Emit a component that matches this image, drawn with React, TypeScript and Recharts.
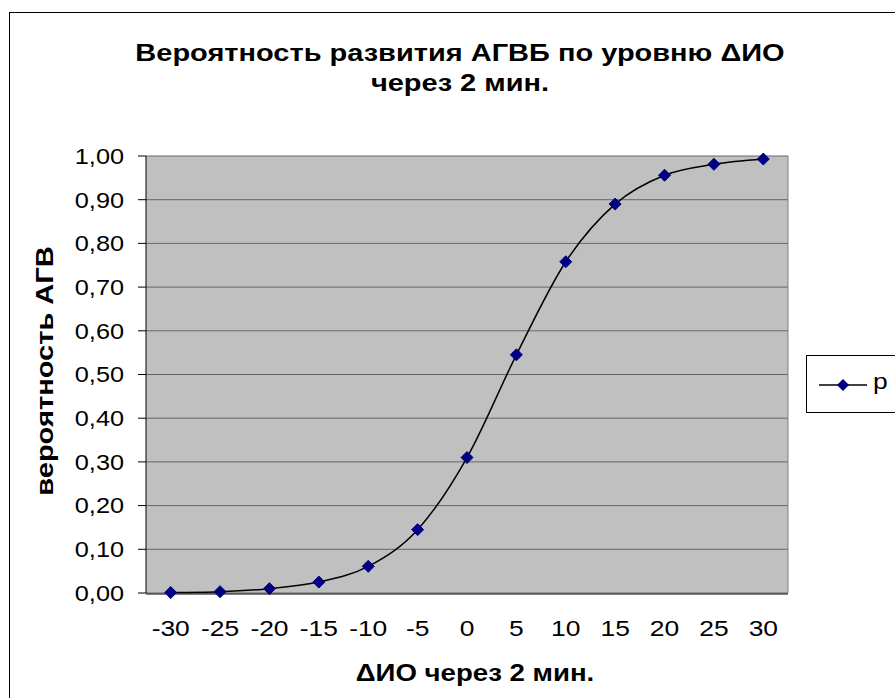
import React from 'react';
import { LineChart, Line, XAxis, YAxis, CartesianGrid, ReferenceLine } from 'recharts';

// ΔИО через 2 мин. (categories)
const dio = [-30, -25, -20, -15, -10, -5, 0, 5, 10, 15, 20, 25, 30];
// вероятность АГВ, series "p"
const p = [0.001, 0.003, 0.01, 0.025, 0.061, 0.145, 0.31, 0.545, 0.758, 0.89, 0.956, 0.981, 0.993];
const yTicks = [0, 0.1, 0.2, 0.3, 0.4, 0.5, 0.6, 0.7, 0.8, 0.9, 1];

// category boundaries for the tick marks (Excel style, between categories)
const edges = dio.map((v) => v - 2.5).concat(dio[dio.length - 1] + 2.5);

const data = dio.map((x, i) => ({ x, p: p[i] }));

const FONT = '"Liberation Sans", Arial, sans-serif';
const NAVY = '#000080';

const Diamond = (props: any) => {
    const { cx, cy } = props;
    if (cx == null || cy == null) return null;
    const r = 6;
    return <polygon points={`${cx},${cy - r} ${cx + r},${cy} ${cx},${cy + r} ${cx - r},${cy}`} fill={NAVY} stroke={NAVY} />;
};

const fmt = (v: number) => v.toFixed(2).replace('.', ',');

const XTick = (props: any) => {
    const { x, y, payload } = props;
    return (
        <text transform={`translate(${x},${y}) scale(1.2,1)`} textAnchor="middle" dy="0.71em" fontSize={22} fontFamily={FONT} fill="#000">
            {payload.value}
        </text>
    );
};

const YTick = (props: any) => {
    const { x, y, payload } = props;
    return (
        <text transform={`translate(${x},${y}) scale(1.15,1)`} textAnchor="end" dy="0.355em" fontSize={22} fontFamily={FONT} fill="#000">
            {fmt(payload.value)}
        </text>
    );
};

export default function App() {
    return (
        <div style={{ position: 'absolute', left: 0, top: 0, width: 895, height: 698, overflow: 'hidden', background: '#fff', fontFamily: FONT }}>
            <div style={{ position: 'absolute', left: 9, top: 12, width: 900, height: 700, border: '1px solid #000', boxSizing: 'border-box' }} />
            <div style={{ position: 'absolute', left: 0, width: 920, top: 38, textAlign: 'center', fontWeight: 'bold', fontSize: 23, lineHeight: '30px', color: '#000', transform: 'scaleX(1.26)', transformOrigin: '460px 0' }}>
                Вероятность развития АГВБ по уровню ΔИО<br />через 2 мин.
            </div>
            <LineChart
                width={895}
                height={698}
                data={data}
                margin={{ top: 156, right: 107, bottom: 103, left: 145 }}
                style={{ position: 'absolute', left: 0, top: 0 }}
            >
                <CartesianGrid vertical={false} horizontal stroke="#666" fill="#C0C0C0" fillOpacity={1} />
                <XAxis
                    xAxisId="edges"
                    type="number"
                    domain={[-32.5, 32.5]}
                    ticks={edges}
                    interval={0}
                    height={1}
                    tick={false}
                    tickSize={7}
                    tickLine={{ stroke: '#000' }}
                    axisLine={{ stroke: '#000' }}
                />
                <XAxis
                    dataKey="x"
                    type="number"
                    domain={[-32.5, 32.5]}
                    ticks={dio}
                    interval={0}
                    height={1}
                    tickLine={false}
                    axisLine={false}
                    tickSize={0}
                    tickMargin={27}
                    tick={<XTick />}
                />
                <YAxis
                    type="number"
                    domain={[0, 1]}
                    ticks={yTicks}
                    interval={0}
                    width={1}
                    tickSize={8}
                    tickMargin={14}
                    tickLine={{ stroke: '#000' }}
                    axisLine={{ stroke: '#000' }}
                    tick={<YTick />}
                />
                <ReferenceLine x={32.5} stroke="#808080" />
                <Line
                    type="monotone"
                    dataKey="p"
                    stroke="#000"
                    strokeWidth={1.5}
                    dot={<Diamond />}
                    activeDot={false}
                    isAnimationActive={false}
                />
            </LineChart>
            <div style={{ position: 'absolute', left: 45, top: 371, width: 0, height: 0 }}>
                <div style={{ position: 'absolute', left: 0, top: 0, transform: 'translate(-50%, -50%) rotate(-90deg) scaleX(1.21)', whiteSpace: 'nowrap', fontWeight: 'bold', fontSize: 24, color: '#000' }}>
                    вероятность АГВ
                </div>
            </div>
            <div style={{ position: 'absolute', left: 475, top: 673, width: 0, height: 0 }}>
                <div style={{ position: 'absolute', left: 0, top: 0, transform: 'translate(-50%, -50%) scaleX(1.15)', whiteSpace: 'nowrap', fontWeight: 'bold', fontSize: 24, color: '#000' }}>
                    ΔИО через 2 мин.
                </div>
            </div>
            <div style={{ position: 'absolute', left: 806, top: 355, width: 110, height: 58, border: '1px solid #000', boxSizing: 'border-box', background: '#fff' }}>
                <svg width={60} height={58} style={{ position: 'absolute', left: 12, top: 0 }}>
                    <line x1={0} y1={29} x2={48} y2={29} stroke="#000" strokeWidth={1.5} />
                    <polygon points="24,23 30,29 24,35 18,29" fill={NAVY} />
                </svg>
                <div style={{ position: 'absolute', left: 66, top: 13, fontSize: 22, color: '#000', transform: 'scaleX(1.2)', transformOrigin: 'left' }}>p</div>
            </div>
        </div>
    );
}
